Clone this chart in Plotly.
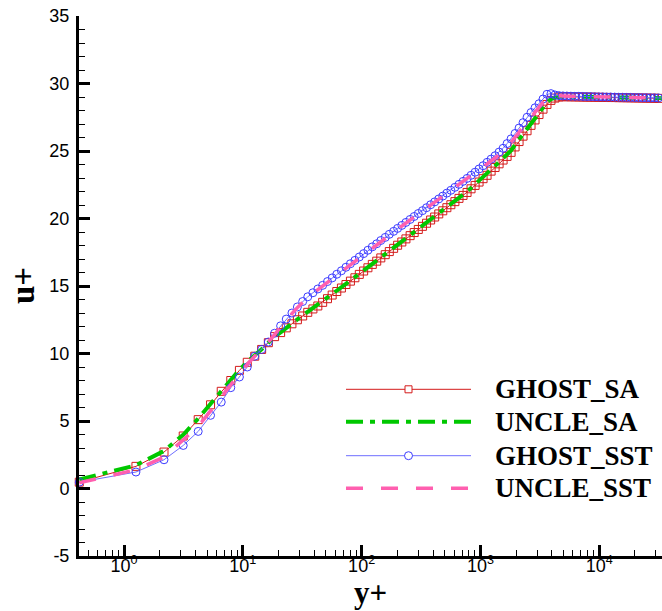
import plotly.graph_objects as go

# ---------------- data ----------------
y_plus = [0.42, 1.26, 2.17, 3.15, 4.21, 5.35, 6.58, 7.92, 9.36, 10.9,
          12.6, 14.4, 16.4, 18.5, 20.8, 23.2, 25.9, 28.8, 31.9, 35.2,
          38.9, 42.8, 47.0, 51.6, 56.5, 61.8, 67.6, 73.8, 80.5, 87.8,
          95.6, 104, 113, 123, 134, 145, 158, 171, 186, 201,
          218, 236, 256, 277, 300, 325, 352, 381, 412, 446,
          482, 522, 564, 610, 660, 714, 772, 834, 902, 974,
          1053, 1138, 1230, 1329, 1436, 1552, 1677, 1812, 1958, 2115,
          2285, 2469, 2667, 2882, 3113, 3363, 3633, 3924, 4239, 4579,
          4947, 5344, 5773, 6236, 6736, 7277, 7861, 8491, 9172, 9908,
          10700, 11560, 12490, 13490, 14570, 15740, 17000, 18370, 19840, 21430,
          23150, 25000, 27010, 29170, 31510, 34040]

ghost_sa = [0.47, 1.64, 2.70, 3.89, 5.10, 6.20, 7.20, 8.00, 8.75, 9.35,
            9.80, 10.30, 10.80, 11.25, 11.55, 11.90, 12.20, 12.50, 12.78, 13.05,
            13.30, 13.52, 13.79, 14.06, 14.33, 14.59, 14.85, 15.11, 15.36, 15.61,
            15.86, 16.11, 16.35, 16.60, 16.84, 17.08, 17.32, 17.55, 17.79, 18.02,
            18.26, 18.49, 18.73, 18.96, 19.19, 19.42, 19.65, 19.89, 20.11, 20.34,
            20.57, 20.80, 21.02, 21.25, 21.49, 21.71, 21.93, 22.20, 22.45, 22.70,
            22.95, 23.20, 23.51, 23.78, 24.05, 24.33, 24.60, 24.90, 25.30, 25.70,
            26.10, 26.50, 26.90, 27.30, 27.70, 28.10, 28.45, 28.75, 28.92, 29.00,
            29.02, 29.02, 29.01, 29.01, 29.00, 29.00, 28.99, 28.99, 28.98, 28.98,
            28.97, 28.97, 28.96, 28.96, 28.95, 28.95, 28.94, 28.94, 28.93, 28.93,
            28.92, 28.92, 28.91, 28.91, 28.90, 28.90]

uncle_sa = [0.67, 1.72, 2.78, 3.98, 5.18, 6.28, 7.25, 8.05, 8.80, 9.38,
            9.83, 10.32, 10.80, 11.25, 11.57, 11.92, 12.23, 12.53, 12.81, 13.08,
            13.33, 13.56, 13.83, 14.10, 14.37, 14.63, 14.89, 15.15, 15.40, 15.65,
            15.90, 16.15, 16.39, 16.64, 16.88, 17.12, 17.36, 17.59, 17.83, 18.06,
            18.30, 18.53, 18.77, 19.00, 19.23, 19.46, 19.69, 19.93, 20.15, 20.38,
            20.61, 20.84, 21.06, 21.29, 21.53, 21.76, 21.99, 22.26, 22.52, 22.78,
            23.04, 23.30, 23.62, 23.90, 24.18, 24.46, 24.74, 25.05, 25.45, 25.85,
            26.25, 26.65, 27.05, 27.45, 27.85, 28.25, 28.60, 28.85, 28.98, 29.03,
            29.04, 29.04, 29.03, 29.03, 29.02, 29.02, 29.01, 29.00, 29.00, 28.99,
            28.99, 28.98, 28.98, 28.97, 28.97, 28.96, 28.96, 28.95, 28.95, 28.94,
            28.94, 28.93, 28.93, 28.92, 28.92, 28.91]

ghost_sst = [0.47, 1.22, 2.13, 3.19, 4.23, 5.42, 6.40, 7.47, 8.26, 9.00,
             9.80, 10.30, 10.85, 11.50, 12.05, 12.55, 13.00, 13.45, 13.85, 14.20,
             14.50, 14.78, 15.05, 15.33, 15.60, 15.87, 16.13, 16.39, 16.65, 16.90,
             17.15, 17.40, 17.65, 17.90, 18.13, 18.37, 18.60, 18.83, 19.05, 19.27,
             19.49, 19.71, 19.93, 20.15, 20.37, 20.58, 20.80, 21.02, 21.23, 21.45,
             21.66, 21.88, 22.09, 22.31, 22.53, 22.75, 22.97, 23.20, 23.43, 23.67,
             23.91, 24.16, 24.40, 24.65, 24.92, 25.20, 25.55, 25.90, 26.30, 26.70,
             27.10, 27.50, 27.85, 28.20, 28.50, 28.85, 29.20, 29.25, 29.15, 29.10,
             29.08, 29.07, 29.06, 29.05, 29.05, 29.04, 29.03, 29.03, 29.02, 29.01,
             29.01, 29.00, 29.00, 28.99, 28.98, 28.98, 28.97, 28.97, 28.96, 28.96,
             28.95, 28.95, 28.94, 28.94, 28.93, 28.93]

uncle_sst = [0.42, 1.39, 2.33, 3.60, 4.60, 5.75, 6.80, 7.75, 8.50, 9.20,
             9.85, 10.35, 10.85, 11.42, 11.98, 12.50, 12.95, 13.40, 13.80, 14.15,
             14.45, 14.73, 15.00, 15.28, 15.55, 15.82, 16.08, 16.34, 16.60, 16.85,
             17.10, 17.35, 17.60, 17.85, 18.08, 18.32, 18.55, 18.78, 19.00, 19.22,
             19.44, 19.66, 19.88, 20.10, 20.32, 20.53, 20.75, 20.97, 21.18, 21.40,
             21.61, 21.83, 22.04, 22.26, 22.48, 22.70, 22.92, 23.14, 23.36, 23.58,
             23.80, 24.02, 24.24, 24.48, 24.74, 25.00, 25.32, 25.65, 26.02, 26.40,
             26.80, 27.20, 27.58, 27.95, 28.30, 28.65, 28.98, 29.12, 29.12, 29.10,
             29.08, 29.07, 29.06, 29.05, 29.05, 29.04, 29.03, 29.03, 29.02, 29.01,
             29.01, 29.00, 29.00, 28.99, 28.98, 28.98, 28.97, 28.97, 28.96, 28.96,
             28.95, 28.95, 28.94, 28.94, 28.93, 28.93]

series_names = ["GHOST_SA", "UNCLE_SA", "GHOST_SST", "UNCLE_SST"]

x_tick_vals = [1, 10, 100, 1000, 10000]
x_tick_text = ["10<sup>0</sup>", "10<sup>1</sup>", "10<sup>2</sup>", "10<sup>3</sup>", "10<sup>4</sup>"]
y_tick_vals = [-5, 0, 5, 10, 15, 20, 25, 30, 35]
y_tick_text = ["-5", "0", "5", "10", "15", "20", "25", "30", "35"]

# ---------------- styles ----------------
RED = "#D41A1A"
GREEN = "#00C800"
BLUE_M = "#3C3CFF"
BLUE_L = "#6E6EFF"
PINK = "#FF5FAF"

W, H = 662, 611
ML, MR, MT, MB = 79, 0, 16, 55
PW, PH = W - ML - MR, H - MT - MB

def px(x):
    return (x - ML) / PW

def py(y):
    return (H - MB - y) / PH

fig = go.Figure()
fig.add_trace(go.Scatter(x=y_plus, y=ghost_sa, mode="lines+markers", name=series_names[0],
                         line=dict(color=RED, width=1),
                         marker=dict(symbol="square-open", size=8, color=RED, line=dict(width=1, color=RED)),
                         cliponaxis=False))
fig.add_trace(go.Scatter(x=y_plus, y=uncle_sa, mode="lines", name=series_names[1],
                         line=dict(color=GREEN, width=4, dash="17px,7px,5px,7px")))
fig.add_trace(go.Scatter(x=y_plus, y=ghost_sst, mode="lines+markers", name=series_names[2],
                         line=dict(color=BLUE_L, width=1),
                         marker=dict(symbol="circle-open", size=8, color=BLUE_M, line=dict(width=1, color=BLUE_M)),
                         cliponaxis=False))
fig.add_trace(go.Scatter(x=y_plus, y=uncle_sst, mode="lines", name=series_names[3],
                         line=dict(color=PINK, width=3.5, dash="17px,18px")))

tick_font = dict(family="Liberation Sans, Arial", size=18, color="black")
minor_x = [m * 10 ** k for k in range(-1, 5) for m in range(2, 10)]

fig.update_layout(
    width=W, height=H,
    margin=dict(l=ML, r=MR, t=MT, b=MB, pad=0),
    paper_bgcolor="white", plot_bgcolor="white",
    showlegend=False,
    xaxis=dict(type="log", range=[-0.379, -0.379 + PW / 118.8],
               tickmode="array", tickvals=x_tick_vals, ticktext=x_tick_text,
               ticks="inside", ticklen=11, tickwidth=3, tickcolor="black",
               showline=True, linewidth=3, linecolor="black", mirror=False,
               showgrid=False, zeroline=False, tickfont=tick_font, ticklabelstandoff=-9,
               minor=dict(tickmode="array", tickvals=minor_x, ticks="inside", ticklen=6,
                          tickwidth=1, tickcolor="black", showgrid=False)),
    yaxis=dict(range=[-5, 35], tickmode="array", tickvals=y_tick_vals, ticktext=y_tick_text,
               ticks="inside", ticklen=11, tickwidth=3, tickcolor="black",
               showline=True, linewidth=3, linecolor="black", mirror=False,
               showgrid=False, zeroline=False, tickfont=tick_font, ticklabelstandoff=3,
               minor=dict(dtick=1, ticks="inside", ticklen=6, tickwidth=1,
                          tickcolor="black", showgrid=False)),
)

title_font = dict(family="Liberation Serif, Times New Roman", size=33, color="black")
fig.add_annotation(text="<b>u+</b>", xref="paper", yref="paper", x=px(23), y=py(286),
                   xanchor="center", yanchor="middle", textangle=-90, showarrow=False, font=title_font)
fig.add_annotation(text="<b>y+</b>", xref="paper", yref="paper", x=px(370), y=py(611),
                   xanchor="center", yanchor="bottom", showarrow=False, borderpad=0,
                   font=dict(family="Liberation Serif, Times New Roman", size=31, color="black"))

# ---------------- legend (drawn manually) ----------------
leg_x0, leg_x1, leg_xm, leg_tx = px(346), px(471), px(408.5), px(493)
rows = [389.3, 421.7, 455.7, 488.3]
leg_styles = [dict(color=RED, width=1), dict(color=GREEN, width=4, dash="17px,7px,5px,7px"),
              dict(color=BLUE_L, width=1), dict(color=PINK, width=3.5, dash="17px,18px")]
leg_font = dict(family="Liberation Serif, Times New Roman", size=27, color="black")
for name, r, st in zip(series_names, rows, leg_styles):
    fig.add_shape(type="line", xref="paper", yref="paper", x0=leg_x0, x1=leg_x1, y0=py(r), y1=py(r), line=st)
    fig.add_annotation(text="<b>%s</b>" % name, xref="paper", yref="paper", x=leg_tx, y=py(r),
                       xanchor="left", yanchor="middle", showarrow=False, font=leg_font)
fig.add_shape(type="rect", xref="paper", yref="paper", xsizemode="pixel", ysizemode="pixel",
              xanchor=leg_xm, yanchor=py(rows[0]), x0=-3.5, x1=3.5, y0=-3.5, y1=3.5,
              line=dict(color=RED, width=1), fillcolor="white")
fig.add_shape(type="circle", xref="paper", yref="paper", xsizemode="pixel", ysizemode="pixel",
              xanchor=leg_xm, yanchor=py(rows[2]), x0=-4, x1=4, y0=-4, y1=4,
              line=dict(color=BLUE_M, width=1), fillcolor="white")

fig.write_html("out.html")
